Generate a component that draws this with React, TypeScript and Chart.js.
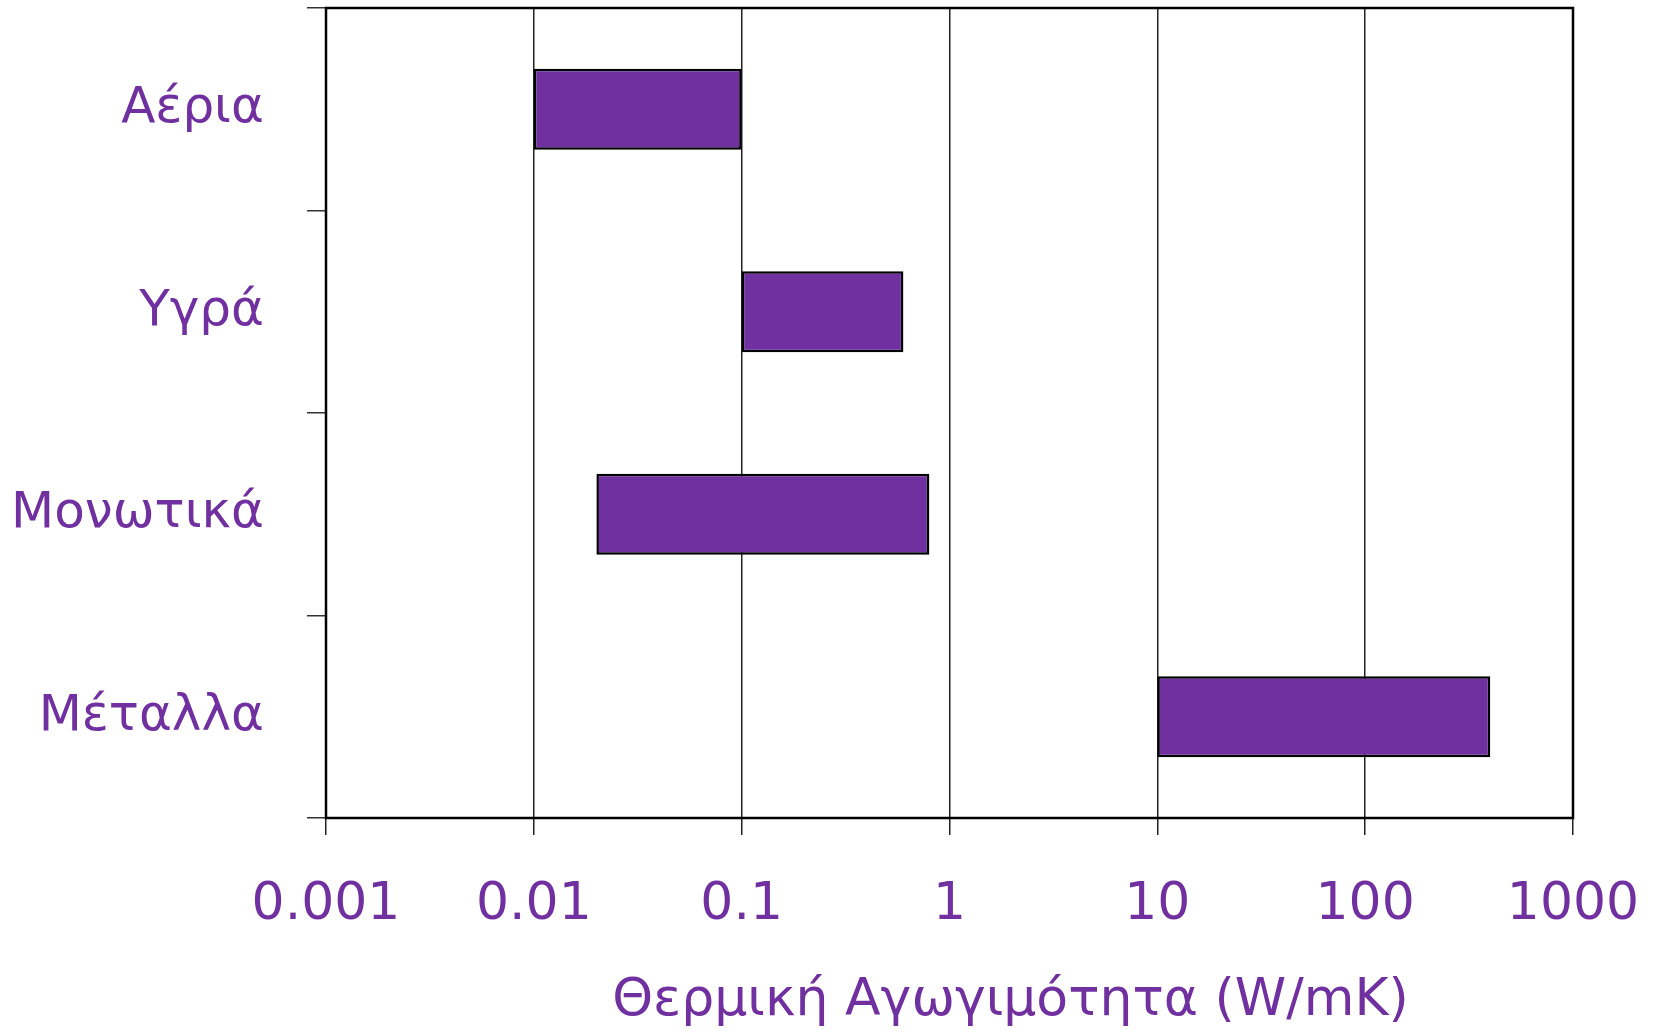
import React, { useEffect, useRef } from "react";
import { Chart, registerables } from "chart.js";

Chart.register(...registerables);

const categories = ["Αέρια", "Υγρά", "Μονωτικά", "Μέταλλα"];
const lowValues = [0.01, 0.1, 0.02, 10];
const highValues = [0.1, 0.6, 0.8, 400];
const tickValues = [0.001, 0.01, 0.1, 1, 10, 100, 1000];
const tickLabels = ["0.001", "0.01", "0.1", "1", "10", "100", "1000"];
const axisTitle = "Θερμική Αγωγιμότητα (W/mK)";

const PURPLE = "#7030A0";
const FONT = "'DejaVu Sans', sans-serif";

export default function App() {
  const ref = useRef<HTMLCanvasElement | null>(null);

  useEffect(() => {
    if (!ref.current) return;

    const framePlugin = {
      id: "frameAndTitle",
      afterDraw(chart: any) {
        const { ctx, chartArea } = chart;
        ctx.save();
        ctx.strokeStyle = "#000";
        ctx.lineWidth = 2.5;
        ctx.strokeRect(
          chartArea.left,
          chartArea.top,
          chartArea.right - chartArea.left,
          chartArea.bottom - chartArea.top
        );
        ctx.fillStyle = PURPLE;
        ctx.font = `52px ${FONT}`;
        ctx.textAlign = "center";
        ctx.textBaseline = "middle";
        const cx = (chartArea.left + chartArea.right) / 2 + 61;
        ctx.fillText(axisTitle, cx, chartArea.bottom + 183);
        ctx.restore();
      },
    };

    const chart = new Chart(ref.current, {
      type: "bar",
      data: {
        labels: categories,
        datasets: [
          {
            data: categories.map((_, i) => [lowValues[i], highValues[i]]) as any,
            backgroundColor: PURPLE,
            borderColor: "#000",
            borderWidth: 2.5,
            borderSkipped: false,
            barPercentage: 0.4,
            categoryPercentage: 1,
          },
        ],
      },
      options: {
        indexAxis: "y",
        animation: false,
        responsive: true,
        maintainAspectRatio: false,
        layout: { padding: { left: 0, top: 8, right: 94, bottom: 0 } },
        plugins: {
          legend: { display: false },
          tooltip: { enabled: false },
          title: { display: false },
        },
        scales: {
          x: {
            type: "logarithmic",
            min: 0.001,
            max: 1000,
            afterBuildTicks: (s: any) => {
              s.ticks = tickValues.map((v) => ({ value: v, major: true }));
            },
            afterFit: (s: any) => {
              s.height = 214;
              s.paddingLeft = 0;
              s.paddingRight = 0;
            },
            ticks: {
              autoSkip: false,
              maxRotation: 0,
              padding: 39,
              color: PURPLE,
              font: { family: FONT, size: 52 },
              callback: (_v: any, i: number) => tickLabels[i],
            },
            grid: {
              color: "#222",
              lineWidth: 1.5,
              tickLength: 17,
              drawTicks: true,
            },
            border: { display: false },
          },
          y: {
            type: "category",
            offset: true,
            afterFit: (s: any) => {
              s.width = 326;
              s.paddingTop = 0;
              s.paddingBottom = 0;
            },
            ticks: {
              padding: 43,
              color: PURPLE,
              font: { family: FONT, size: 50 },
            },
            grid: {
              offset: true,
              drawOnChartArea: false,
              color: "#333",
              lineWidth: 1.5,
              tickLength: 19,
            },
            border: { display: false },
          },
        },
      },
      plugins: [framePlugin],
    });

    return () => chart.destroy();
  }, []);

  return (
    <div style={{ position: "absolute", left: 0, top: 0, width: 1667, height: 1032, background: "#fff" }}>
      <canvas ref={ref} />
    </div>
  );
}
